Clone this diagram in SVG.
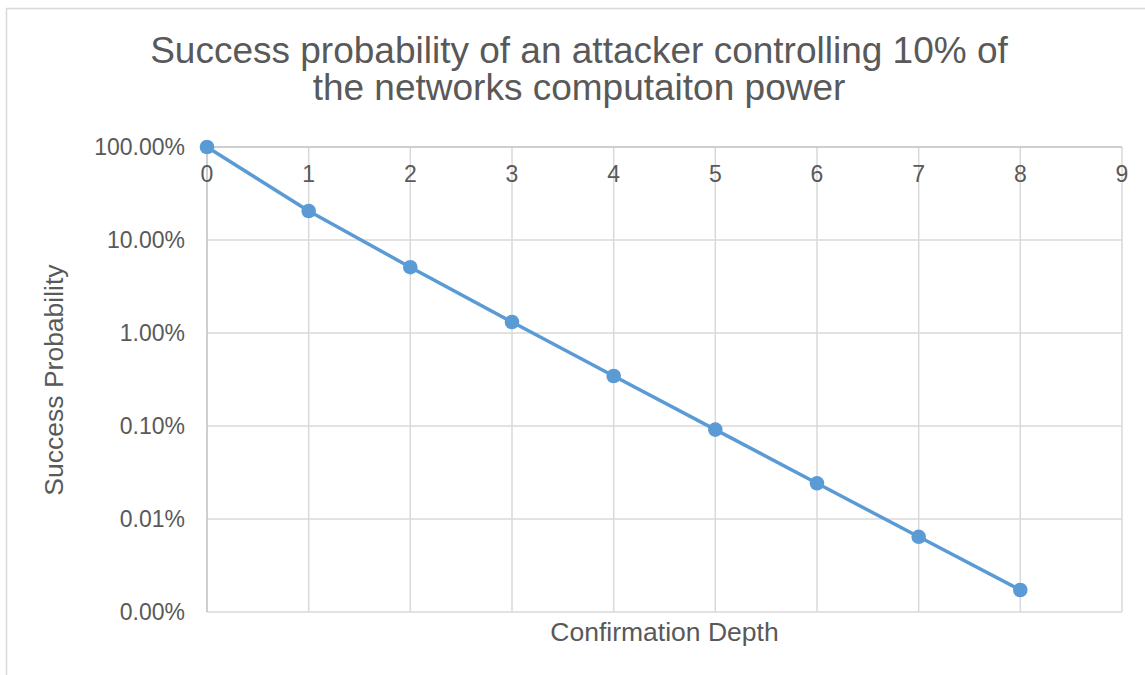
<svg xmlns="http://www.w3.org/2000/svg" width="1145" height="675" viewBox="0 0 1145 675">
<style>
.t{font-family:"Liberation Sans",Arial,sans-serif;fill:#595959}
.title{font-size:37px}
.tick{font-size:23px}
.axt{font-size:26.5px}
.grid{stroke:#d9d9d9;stroke-width:1.5;fill:none}
.axis{stroke:#bfbfbf;stroke-width:1.5;fill:none}
.series{stroke:#5b9bd5;stroke-width:3.5;fill:none;stroke-linejoin:round}
.pt{fill:#5b9bd5}
</style>
<rect x="0" y="0" width="1145" height="675" fill="#ffffff"/>
<rect x="6.5" y="8.5" width="1150" height="680" fill="#ffffff" stroke="#d9d9d9" stroke-width="1.5"/>
<g id="title">
<text class="t title" x="579" y="63" text-anchor="middle">Success probability of an attacker controlling 10% of</text>
<text class="t title" x="579" y="100" text-anchor="middle">the networks computaiton power</text>
</g>
<g id="gridlines">
<path class="grid" d="M207 240H1122M207 333H1122M207 426H1122M207 519H1122M207 612H1122"/>
<path class="grid" d="M308.7 147V612M410.3 147V612M512 147V612M613.7 147V612M715.3 147V612M817 147V612M918.7 147V612M1020.3 147V612M1122 147V612"/>
</g>
<g id="axes">
<path class="axis" d="M207 147H1122"/>
<path class="axis" d="M207 147V612"/>
</g>
<g id="y-labels">
<text class="t tick" x="185" y="155" text-anchor="end">100.00%</text>
<text class="t tick" x="185" y="248" text-anchor="end">10.00%</text>
<text class="t tick" x="185" y="341" text-anchor="end">1.00%</text>
<text class="t tick" x="185" y="434" text-anchor="end">0.10%</text>
<text class="t tick" x="185" y="527" text-anchor="end">0.01%</text>
<text class="t tick" x="185" y="620" text-anchor="end">0.00%</text>
</g>
<g id="x-labels">
<text class="t tick" x="207" y="182" text-anchor="middle">0</text>
<text class="t tick" x="308.7" y="182" text-anchor="middle">1</text>
<text class="t tick" x="410.3" y="182" text-anchor="middle">2</text>
<text class="t tick" x="512" y="182" text-anchor="middle">3</text>
<text class="t tick" x="613.7" y="182" text-anchor="middle">4</text>
<text class="t tick" x="715.3" y="182" text-anchor="middle">5</text>
<text class="t tick" x="817" y="182" text-anchor="middle">6</text>
<text class="t tick" x="918.7" y="182" text-anchor="middle">7</text>
<text class="t tick" x="1020.3" y="182" text-anchor="middle">8</text>
<text class="t tick" x="1122" y="182" text-anchor="middle">9</text>
</g>
<g id="axis-titles">
<text class="t axt" x="664.5" y="641" text-anchor="middle">Confirmation Depth</text>
<text class="t axt" transform="translate(63 380) rotate(-90)" text-anchor="middle">Success Probability</text>
</g>
<g id="series">
<polyline class="series" points="207,147 308.7,211 410.3,267.2 512,322 613.7,376 715.3,429.6 817,483.3 918.7,536.8 1020.3,590"/>
<circle class="pt" cx="207" cy="147" r="7.3"/>
<circle class="pt" cx="308.7" cy="211" r="7.3"/>
<circle class="pt" cx="410.3" cy="267.2" r="7.3"/>
<circle class="pt" cx="512" cy="322" r="7.3"/>
<circle class="pt" cx="613.7" cy="376" r="7.3"/>
<circle class="pt" cx="715.3" cy="429.6" r="7.3"/>
<circle class="pt" cx="817" cy="483.3" r="7.3"/>
<circle class="pt" cx="918.7" cy="536.8" r="7.3"/>
<circle class="pt" cx="1020.3" cy="590" r="7.3"/>
</g>
</svg>
